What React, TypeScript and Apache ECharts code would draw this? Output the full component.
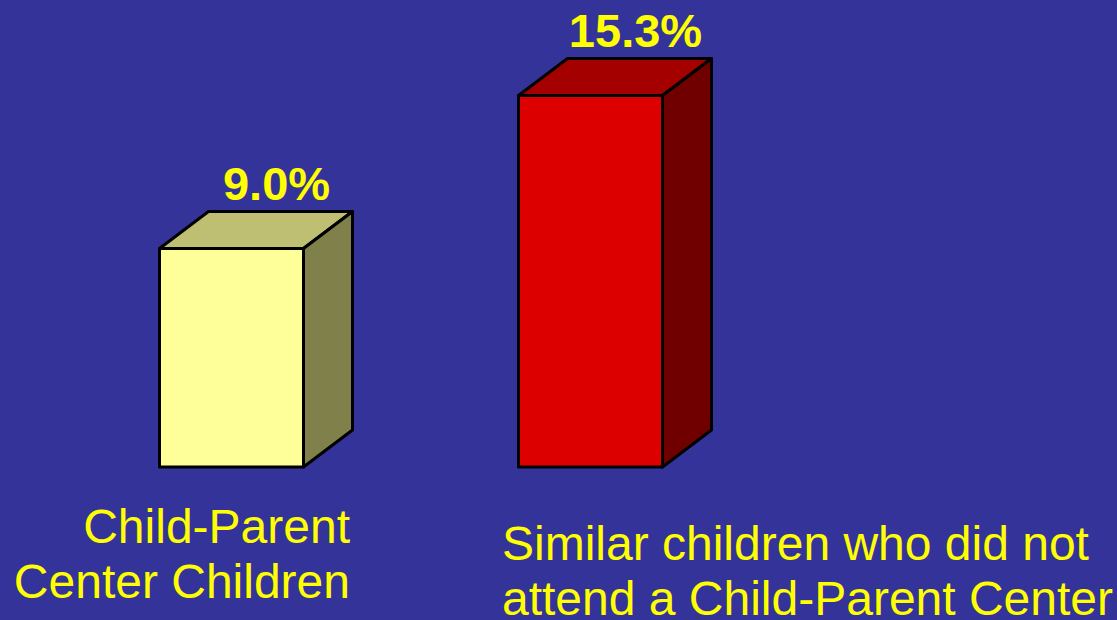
import React, { useEffect, useRef } from "react";
import * as echarts from "echarts";

const categories = ["Child-Parent\nCenter Children", "Similar children who did not\nattend a Child-Parent Center"];
const values = [9.0, 15.3];
const frontColors = ["#FFFF99", "#DD0000"];
const topColors = ["#BFBF73", "#A50000"];
const sideColors = ["#80804A", "#700000"];

export default function App() {
  const ref = useRef<HTMLDivElement>(null);
  useEffect(() => {
    document.body.style.margin = "0";
    const chart = echarts.init(ref.current!, undefined, { renderer: "svg" });
    const barW = 144;
    const dx = 49;
    const dy = 37;
    chart.setOption({
      animation: false,
      backgroundColor: "#333399",
      grid: { left: 52, right: 347, top: 30, bottom: 153 },
      xAxis: { type: "category", data: categories, show: false },
      yAxis: { type: "value", min: 0, max: 18, show: false },
      series: [
        {
          type: "custom",
          data: values.map((v, i) => [i, v]),
          renderItem: (params: any, api: any) => {
            const i = api.value(0);
            const v = api.value(1);
            const top = api.coord([i, v]);
            const base = api.coord([i, 0]);
            const x0 = top[0] - barW / 2;
            const x1 = top[0] + barW / 2;
            const yT = top[1];
            const yB = base[1];
            const stroke = { stroke: "#000", lineWidth: 3, lineJoin: "round" };
            return {
              type: "group",
              children: [
                {
                  type: "polygon",
                  shape: { points: [[x0, yT], [x0 + dx, yT - dy], [x1 + dx, yT - dy], [x1, yT]] },
                  style: { fill: topColors[i], ...stroke },
                },
                {
                  type: "polygon",
                  shape: { points: [[x1, yT], [x1 + dx, yT - dy], [x1 + dx, yB - dy], [x1, yB]] },
                  style: { fill: sideColors[i], ...stroke },
                },
                {
                  type: "rect",
                  shape: { x: x0, y: yT, width: barW, height: yB - yT },
                  style: { fill: frontColors[i], ...stroke },
                },
                {
                  type: "text",
                  x: (x0 + x1) / 2 + 45,
                  y: yT - dy - 28,
                  style: {
                    text: v.toFixed(1) + "%",
                    fill: "#FFFF00",
                    font: "bold 47px 'Liberation Sans', Arial, sans-serif",
                    align: "center",
                    verticalAlign: "middle",
                  },
                },
              ],
            };
          },
        },
      ],
      graphic: [
        {
          type: "text",
          x: 350,
          y: 499,
          style: {
            text: categories[0],
            fill: "#FFFF00",
            font: "48px 'Liberation Sans', Arial, sans-serif",
            lineHeight: 55,
            align: "right",
            verticalAlign: "top",
          },
        },
        {
          type: "text",
          x: 502,
          y: 516,
          style: {
            text: categories[1],
            fill: "#FFFF00",
            font: "48px 'Liberation Sans', Arial, sans-serif",
            lineHeight: 55,
            align: "left",
            verticalAlign: "top",
          },
        },
      ],
    });
    return () => chart.dispose();
  }, []);
  return <div ref={ref} style={{ width: 1117, height: 620 }} />;
}
